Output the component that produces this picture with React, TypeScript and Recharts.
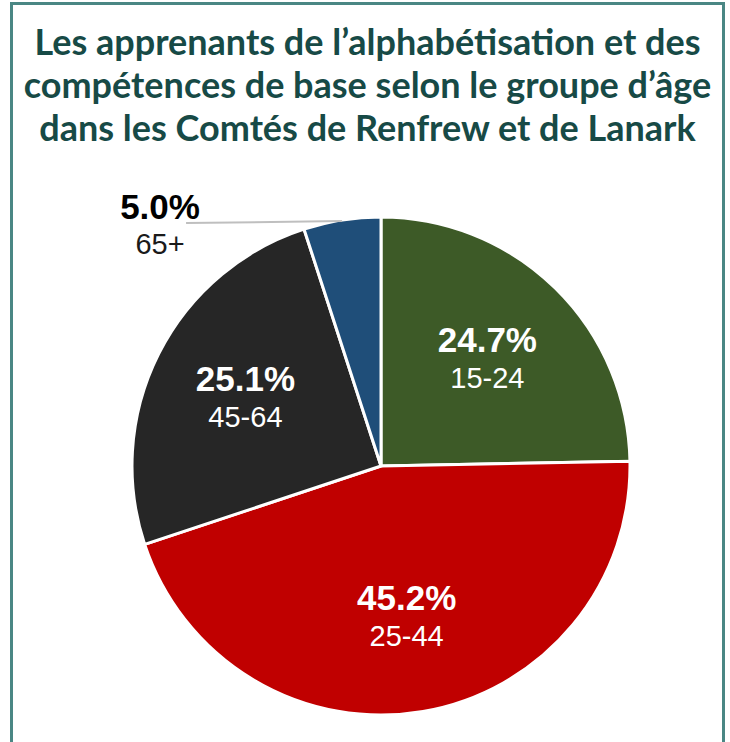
import React from 'react'
import { PieChart, Pie, Cell } from 'recharts'

const ageGroups = ['15-24', '25-44', '45-64', '65+']
const shares = [24.7, 45.2, 25.1, 5.0]
const sliceColors = ['#3d5a27', '#c00000', '#262626', '#1f4e79']

const titleLines = [
  'Les apprenants de l\u2019alphab\u00e9tisation et des',
  'comp\u00e9tences de base selon le groupe d\u2019\u00e2ge',
  'dans les Comt\u00e9s de Renfrew et de Lanark',
]

const data = ageGroups.map((name, i) => ({ name, value: shares[i] }))

const RAD = Math.PI / 180
const labelFont = '"Liberation Sans", Arial, sans-serif'

const SliceLabel = (props: any) => {
  const { cx, cy, midAngle, outerRadius, index } = props
  const value = shares[index]
  const pct = value.toFixed(1) + '%'
  const name = ageGroups[index]

  // small slices get their label outside with a leader line
  if (value < 10) {
    const ex = cx + outerRadius * Math.cos(-midAngle * RAD)
    const ey = cy + outerRadius * Math.sin(-midAngle * RAD)
    const lx = ex - 156
    const ly = ey + 3
    return (
      <g>
        <line x1={ex} y1={ey + 1} x2={lx} y2={ly} stroke="#bfbfbf" strokeWidth={2} />
        <text x={lx - 26} y={ey - 1} textAnchor="middle" fill="#000" fontFamily={labelFont} fontWeight="bold" fontSize={35}>
          {pct}
        </text>
        <text x={lx - 26} y={ey + 34} textAnchor="middle" fill="#1a1a1a" fontFamily={labelFont} fontSize={29}>
          {name}
        </text>
      </g>
    )
  }

  const r = outerRadius * 0.61
  const x = cx + r * Math.cos(-midAngle * RAD)
  const y = cy + r * Math.sin(-midAngle * RAD)
  return (
    <g>
      <text x={x} y={y - 6} textAnchor="middle" fill="#fff" fontFamily={labelFont} fontWeight="bold" fontSize={35}>
        {pct}
      </text>
      <text x={x} y={y + 30} textAnchor="middle" fill="#fff" fontFamily={labelFont} fontSize={29}>
        {name}
      </text>
    </g>
  )
}

export default function App() {
  return (
    <div style={{ position: 'fixed', left: 0, top: 0, width: 730, height: 742, overflow: 'hidden', background: '#fff' }}>
      <div
        style={{
          position: 'absolute',
          left: 10,
          top: 2,
          width: 715,
          height: 780,
          border: '3px solid #4a8784',
          boxSizing: 'border-box',
        }}
      />
      <div
        style={{
          position: 'absolute',
          left: 10,
          top: 20,
          width: 715,
          textAlign: 'center',
          fontFamily: 'Lato, "Open Sans", sans-serif',
          fontWeight: 700,
          fontSize: 36,
          lineHeight: '43px',
          color: '#174a46',
          whiteSpace: 'nowrap',
        }}
      >
        {titleLines.map((line) => (
          <div key={line}>{line}</div>
        ))}
      </div>
      <div style={{ position: 'absolute', left: 0, top: 0 }}>
        <PieChart width={730} height={742} margin={{ top: 0, right: 0, bottom: 0, left: 0 }}>
          <Pie
            data={data}
            dataKey="value"
            nameKey="name"
            cx={381}
            cy={466}
            outerRadius={249}
            startAngle={90}
            endAngle={-270}
            stroke="#fff"
            strokeWidth={3}
            label={SliceLabel}
            labelLine={false}
            isAnimationActive={false}
          >
            {data.map((entry, index) => (
              <Cell key={`cell-${index}`} fill={sliceColors[index]} />
            ))}
          </Pie>
        </PieChart>
      </div>
    </div>
  )
}
